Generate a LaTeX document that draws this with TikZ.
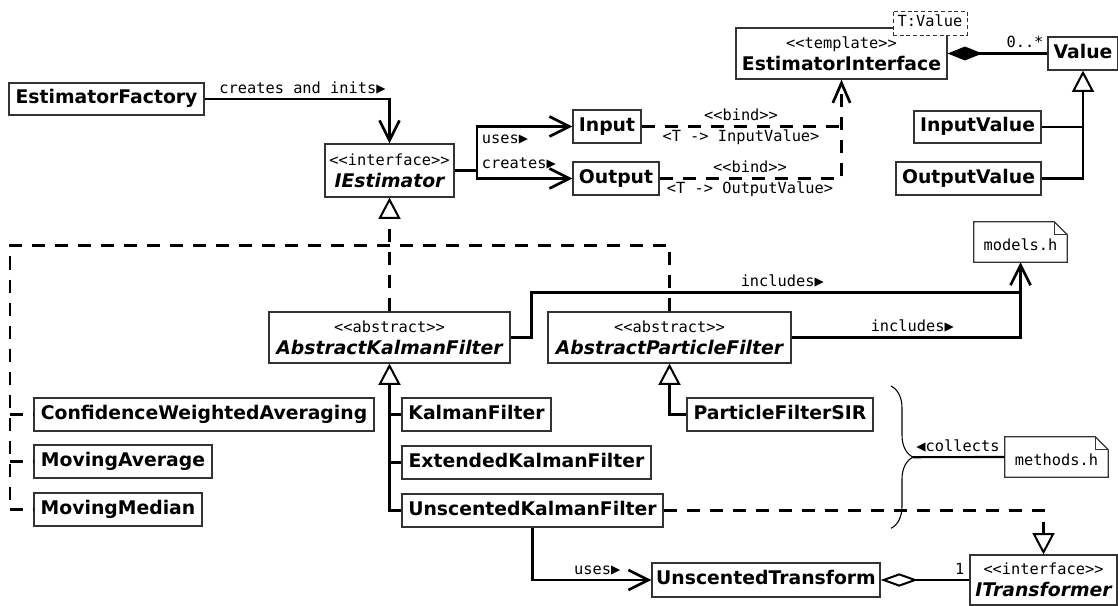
\documentclass[tikz,border=0pt]{standalone}
\usepackage{fontspec}
\setmainfont{DejaVu Sans}
\setmonofont{DejaVu Sans Mono}
\usetikzlibrary{arrows.meta,decorations.pathreplacing,calc}

\newcommand{\nmfont}{\bfseries\fontsize{14.1pt}{16.3pt}\selectfont}
\newcommand{\lblfont}{\ttfamily\mdseries\upshape\fontsize{11.5pt}{13pt}\selectfont}

\tikzset{
  box/.style 2 args={minimum width=#1*0.75pt, minimum height=#2*0.75pt},
  cls/.style={draw=black!80, line width=0.9pt, fill=white, inner sep=0pt,
              font=\nmfont, text height=10.3pt, text depth=2.9pt},
  cls2/.style={draw=black!80, line width=0.9pt, fill=white, inner sep=0pt,
               align=center, font=\nmfont},
  tparam/.style={draw=black!80, line width=0.7pt, dash pattern=on 3pt off 2pt,
                 fill=white, inner sep=0pt, font=\lblfont, text height=7.8pt, text depth=2pt},
  notetext/.style={inner sep=0pt, font=\lblfont, text height=15pt, text depth=2pt},
  notebd/.style={draw=black!80, line width=0.9pt},
  lbl/.style={font=\lblfont, inner sep=0pt, text height=7.8pt, text depth=2pt},
  conn/.style={line width=2pt, line cap=butt},
  assoc/.style={conn, -{Straight Barb[length=15pt,width=15pt]}},
  gen/.style={conn, -{Triangle[length=16pt,width=16.5pt,fill=white,line width=1.5pt]}},
  dashline/.style={conn, dash pattern=on 9.75pt off 7.5pt},
  realize/.style={dashline, -{Triangle[length=16pt,width=16.5pt,fill=white,line width=1.5pt]}},
  dep/.style={dashline, -{Straight Barb[length=15pt,width=13pt]}},
  comp/.style={conn, -{Diamond[length=26pt,width=10.5pt]}},
  aggr/.style={conn, -{Diamond[length=28pt,width=10pt,fill=white,line width=1.5pt]}},
  brc/.style={line width=0.8pt, decorate, decoration={brace, amplitude=16.5pt}},
}

\begin{document}
\begin{tikzpicture}[x=0.75pt, y=-0.75pt]
\useasboundingbox (0,0) rectangle (1118,606);

% ---------- classes ----------
\node[cls, box={195}{32}] (EF) at (106.5,99) {EstimatorFactory};
\node[cls2, box={129}{53}] (IE) at (389.5,170.5) {{\lblfont <<interface>>}\\{\itshape IEstimator}};
\node[cls, box={68}{33}] (In) at (607,126.5) {Input};
\node[cls, box={86}{33}] (Out) at (616,178.5) {Output};
\node[cls2, box={211}{51}] (EI) at (841.5,53.5) {{\lblfont <<template>>}\\EstimatorInterface};
\node[tparam, box={74}{24}] (TV) at (930,23) {T:Value};
\node[cls, box={70}{33}] (Val) at (1083,53.5) {Value};
\node[cls, box={127}{32}] (IV) at (977.5,127) {InputValue};
\node[cls, box={145}{33}] (OV) at (968.5,178.5) {OutputValue};

\node[cls2, box={241}{51}] (AKF) at (389.5,337.5) {{\lblfont <<abstract>>}\\{\itshape AbstractKalmanFilter}};
\node[cls2, box={243}{51}] (APF) at (669.5,337.5) {{\lblfont <<abstract>>}\\{\itshape AbstractParticleFilter}};

\node[cls, box={340}{33}] (CWA) at (204,414.5) {ConfidenceWeightedAveraging};
\node[cls, box={178}{33}] (MA) at (123,461.5) {MovingAverage};
\node[cls, box={168}{33}] (MM) at (118,509.5) {MovingMedian};
\node[cls, box={149}{33}] (KF) at (476.5,414.5) {KalmanFilter};
\node[cls, box={249}{33}] (EKF) at (526.5,462.5) {ExtendedKalmanFilter};
\node[cls, box={261}{33}] (UKF) at (532.5,510.5) {UnscentedKalmanFilter};
\node[cls, box={186}{33}] (PFS) at (780,414.5) {ParticleFilterSIR};
\node[cls, box={228}{34}] (UT) at (766,580) {UnscentedTransform};
\node[cls2, box={147}{50}] (IT) at (1043.5,580) {{\lblfont <<interface>>}\\{\itshape ITransformer}};

% ---------- notes (folded corner) ----------
\node[notetext, box={93}{40}] (MH) at (1020.5,242) {models.h};
\node[notetext, box={103}{40}] (MTH) at (1056.5,457) {methods.h};
\foreach \n in {MH,MTH}{
  \draw[notebd] (\n.south west) -- (\n.south east) -- ([yshift=-9.75pt]\n.north east)
    -- ([xshift=-9.75pt]\n.north east) -- (\n.north west) -- cycle;
  \draw[notebd] ([xshift=-9.75pt]\n.north east) |- ([yshift=-9.75pt]\n.north east);
}

% ---------- factory ----------
\draw[assoc] (EF.east) -| (IE.north);
\node[lbl] (lcr) at (302.5,89.3) {creates and inits▶};

% ---------- input / output ----------
\coordinate (j1) at (477,170.5);
\draw[conn] (IE.east) -- (j1);
\draw[assoc] (j1) |- (In.west);
\draw[assoc] (j1) |- (Out.west);
\node[lbl, anchor=west] (lus) at (481.7,139.3) {uses▶};
\node[lbl, anchor=west] (lcs) at (481.7,165) {creates▶};

% ---------- template binding ----------
\draw[dashline] (In.east) -- (In.east -| EI.south);
\draw[dep] (Out.east) -| (EI.south);
\node[lbl] (b1) at (741,116.5) {<<bind>>};
\node[lbl] (b2) at (741,138) {<T -> InputValue>};
\node[lbl] (b3) at (750,168.5) {<<bind>>};
\node[lbl] (b4) at (750,190) {<T -> OutputValue>};

% ---------- values ----------
\draw[comp] (Val.west) -- (EI.east);
\node[lbl] (mult) at (1025,43.3) {0..*};
\draw[conn] (IV.east) -- (IV.east -| Val.south);
\draw[gen] (OV.east) -| (Val.south);

% ---------- realizations of IEstimator ----------
\coordinate (gl) at (10,245.7);
\draw[realize] (AKF.north) -- (IE.south);
\draw[dashline] (APF.north) |- (gl) |- (MM.west);
\draw[dashline] (gl |- CWA.west) -- (CWA.west);
\draw[dashline] (gl |- MA.west) -- (MA.west);

% ---------- Kalman / particle filters ----------
\draw[gen] (UKF.west) -| (AKF.south);
\draw[conn] (KF.west) -- (KF.west -| AKF.south);
\draw[conn] (EKF.west) -- (EKF.west -| AKF.south);
\draw[gen] (PFS.west) -| (APF.south);

% ---------- includes ----------
\coordinate (k1) at (531.7,337.5);
\coordinate (k2) at (1020.5,292.3);
\draw[conn] (AKF.east) -- (k1) |- (k2);
\draw[assoc] (APF.east) -| (MH.south);
\node[lbl] (inc1) at (782.3,282.3) {includes▶};
\node[lbl] (inc2) at (912.3,327.7) {includes▶};

% ---------- transform ----------
\draw[assoc] (UKF.south) |- (UT.west);
\node[lbl] (lut) at (597.3,571) {uses▶};
\draw[aggr] (IT.west) -- (UT.east);
\node[lbl] (one) at (959.7,570.7) {1};
\draw[realize] (UKF.east) -| (IT.north);

% ---------- methods brace ----------
\draw[brc] (891,386) -- (891,528.3);
\coordinate (bt) at (913,457.2);
\draw[line width=1.6pt] (MTH.west) -- (bt);
\node[lbl] (lcol) at (958,447.7) {◀collects};
\end{tikzpicture}
\end{document}
